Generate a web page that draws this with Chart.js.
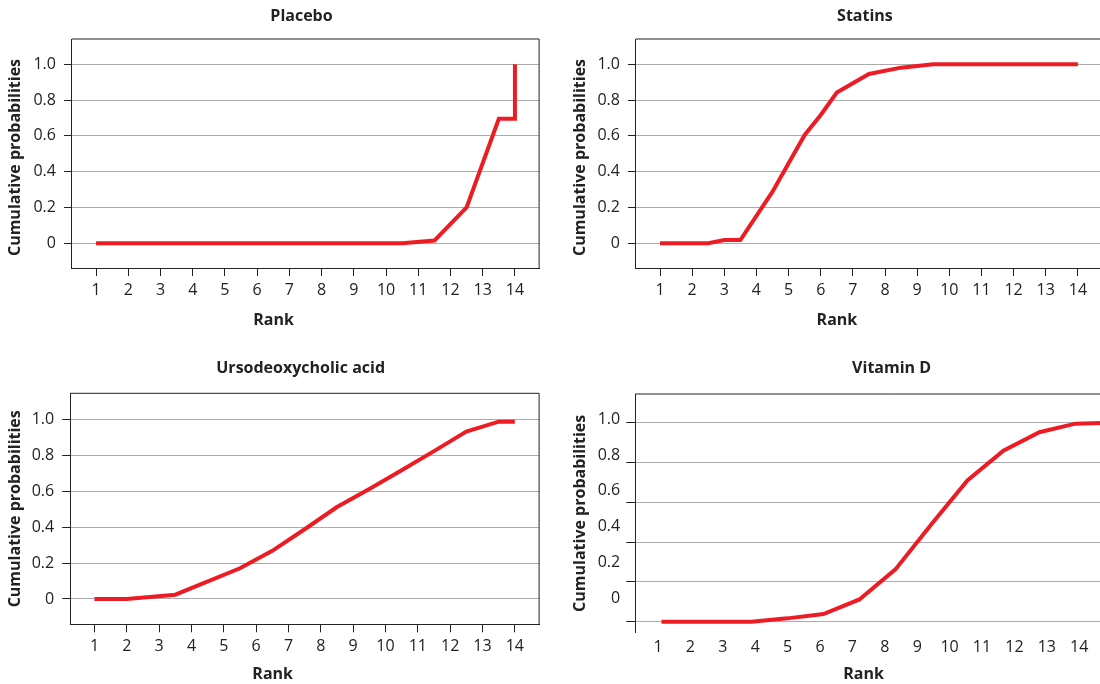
<!DOCTYPE html>
<html>
<head>
<meta charset="utf-8">
<script src="https://cdn.jsdelivr.net/npm/chart.js@4.4.1/dist/chart.umd.min.js"></script>
<style>
  html, body { margin: 0; padding: 0; background: #fff; }
  body { position: relative; width: 1100px; height: 684px; overflow: hidden; }
  canvas { position: absolute; }
</style>
</head>
<body>
<canvas id="placebo" width="550" height="340" style="left:0;top:0"></canvas>
<canvas id="statins" width="560" height="340" style="left:550px;top:0"></canvas>
<canvas id="urso" width="550" height="344" style="left:0;top:340px"></canvas>
<canvas id="vitd" width="620" height="344" style="left:550px;top:340px"></canvas>
<script>
// tick labels
const rankTicks = [1, 2, 3, 4, 5, 6, 7, 8, 9, 10, 11, 12, 13, 14];
const probTicks = [0, 0.2, 0.4, 0.6, 0.8, 1.0];

// cumulative rank probabilities
const placeboRank = [1, 1.5, 2.5, 3.5, 4.5, 5.5, 6.5, 7.5, 8.5, 9.5, 10.5, 11.5, 12.5, 13.5, 14, 14];
const placeboProb = [0, 0, 0, 0, 0, 0, 0, 0, 0, 0, 0, 0.015, 0.2, 0.695, 0.695, 1.0];

const statinsRank = [1, 1.5, 2.5, 3, 3.5, 4.5, 5, 5.5, 6, 6.5, 7.5, 8.5, 9.5, 10.5, 11.5, 12.5, 13.5, 14];
const statinsProb = [0, 0, 0, 0.018, 0.018, 0.288, 0.447, 0.605, 0.717, 0.842, 0.946, 0.981, 1, 1, 1, 1, 1, 1];

const ursoRank = [1, 2, 3.5, 5.5, 6.5, 7.5, 8.5, 9.5, 10.5, 11.5, 12.5, 13.5, 14];
const ursoProb = [0, 0, 0.024, 0.171, 0.268, 0.388, 0.512, 0.612, 0.717, 0.823, 0.932, 0.987, 0.987];

const vitdRank = [1, 1.5, 2.5, 3.5, 4.5, 5.5, 6.5, 7.5, 8.5, 9.5, 10.5, 11.5, 12.5, 13.5, 14];
const vitdProb = [0, 0, 0, 0, 0.017, 0.039, 0.112, 0.263, 0.49, 0.71, 0.859, 0.952, 0.995, 1, 1];

const RED = '#ed1c24';
const GRID = '#ababab';
const INK = '#222222';
const FAMILY = "'Open Sans', 'DejaVu Sans', sans-serif";
const tickFont = { family: FAMILY, size: 16 };
const boldFont = { family: FAMILY, size: 16, weight: 'bold' };
const EN = '\u2002';
const RANK = 'Rank\u2003\u2003\u2003\u2003';

const fixSize = px => s => { if (s.isHorizontal()) s.height = px; else s.width = px; };
const useTicks = values => s => { s.ticks = values.map(v => ({ value: v })); };
const probLabel = v => (v === 0 ? '0' : v.toFixed(1));

// top / right edges of the plot box
const framePlugin = {
  id: 'frame',
  beforeDatasetsDraw(chart, args, opts) {
    const { ctx, chartArea: a } = chart;
    ctx.save();
    ctx.strokeStyle = INK;
    ctx.lineWidth = 1;
    ctx.beginPath();
    ctx.moveTo(a.left, a.top);
    ctx.lineTo(a.right, a.top);
    if (opts.right) {
      ctx.moveTo(a.right, a.top);
      ctx.lineTo(a.right, a.bottom);
    }
    ctx.stroke();
    ctx.restore();
  }
};

function lineSet(ranks, probs) {
  return {
    data: ranks.map((r, i) => ({ x: r, y: probs[i] })),
    borderColor: RED,
    borderWidth: 4,
    pointRadius: 0,
    tension: 0,
    fill: false
  };
}

function basePlugins(title, titlePad, frameRight) {
  return {
    legend: { display: false },
    tooltip: { enabled: false },
    title: { display: true, text: title + EN, font: boldFont, color: INK, fullSize: false, padding: titlePad },
    frame: { right: frameRight }
  };
}

function standardPanel(id, title, ranks, probs, o) {
  return new Chart(document.getElementById(id), {
    type: 'line',
    data: { datasets: [lineSet(ranks, probs)] },
    options: {
      responsive: false,
      animation: false,
      events: [],
      layout: { padding: { right: o.padRight } },
      plugins: basePlugins(title, o.titlePad, o.frameRight),
      scales: {
        x: {
          type: 'linear', min: 0.25, max: 14.75,
          afterBuildTicks: useTicks(rankTicks),
          afterFit: fixSize(o.xHeight),
          grid: { drawOnChartArea: false, tickLength: 8, tickColor: INK },
          border: { color: INK, width: 1 },
          ticks: { font: tickFont, color: INK, padding: 5, autoSkip: false, maxRotation: 0, callback: v => String(v) },
          title: { display: true, text: RANK, font: boldFont, color: INK, padding: { top: 0, bottom: o.rankPad } }
        },
        y: {
          type: 'linear', min: o.yMin, max: o.yMax,
          afterBuildTicks: useTicks(probTicks),
          afterFit: fixSize(o.yWidth),
          grid: { color: GRID, lineWidth: 1, tickLength: 8, tickColor: INK },
          border: { color: INK, width: 1 },
          ticks: { font: tickFont, color: INK, padding: 8, callback: probLabel },
          title: { display: true, text: 'Cumulative probabilities' + o.ySuffix, font: boldFont, color: INK, padding: { top: o.yTitlePad, bottom: 0 } }
        }
      }
    },
    plugins: [framePlugin]
  });
}

standardPanel('placebo', 'Placebo', placeboRank, placeboProb, {
  padRight: 10.9, titlePad: { top: 7.2, bottom: 12.6 }, frameRight: true,
  xHeight: 72, rankPad: 9.8, yMin: -0.138, yMax: 1.141, yWidth: 71.9, yTitlePad: 6.2, ySuffix: EN
});

standardPanel('statins', 'Statins', statinsRank, statinsProb, {
  padRight: 8, titlePad: { top: 7.2, bottom: 12.6 }, frameRight: true,
  xHeight: 72, rankPad: 9.8, yMin: -0.138, yMax: 1.141, yWidth: 85.9, yTitlePad: 21.3, ySuffix: EN
});

standardPanel('urso', 'Ursodeoxycholic acid', ursoRank, ursoProb, {
  padRight: 10.9, titlePad: { top: 19.3, bottom: 14.8 }, frameRight: true,
  xHeight: 59.7, rankPad: 0, yMin: -0.141, yMax: 1.145, yWidth: 70.2, yTitlePad: 6.2, ySuffix: ''
});

// Vitamin D: the plotted area is stretched while its tick labels stay put,
// so labels come from separate axes
new Chart(document.getElementById('vitd'), {
  type: 'line',
  data: { datasets: [lineSet(vitdRank, vitdProb)] },
  options: {
    responsive: false,
    animation: false,
    events: [],
    layout: { padding: { right: 14 } },
    plugins: basePlugins('Vitamin D', { top: 19.3, bottom: 15.5 }, false),
    scales: {
      x: { type: 'linear', display: false, min: 0.27, max: 14.74 },
      xl: {
        type: 'linear', position: 'bottom', weight: 1, min: 0.296, max: 16.37,
        afterBuildTicks: useTicks(rankTicks),
        afterFit: fixSize(51.3),
        grid: { display: false, drawTicks: false },
        border: { display: false },
        ticks: { font: tickFont, color: INK, padding: 5, autoSkip: false, maxRotation: 0, callback: v => String(v) },
        title: { display: true, text: RANK, font: boldFont, color: INK, padding: { top: 0, bottom: 0 } }
      },
      y: {
        type: 'linear', position: 'left', weight: 0, min: -0.055, max: 1.144,
        afterBuildTicks: useTicks(probTicks),
        afterFit: fixSize(9),
        grid: { color: GRID, lineWidth: 1, tickLength: 9, tickColor: INK },
        border: { color: INK, width: 1 },
        ticks: { display: false }
      },
      yl: {
        type: 'linear', position: 'left', weight: 1, min: -0.192, max: 1.141,
        afterBuildTicks: useTicks(probTicks),
        afterFit: fixSize(76.2),
        grid: { display: false, drawTicks: false },
        border: { display: false },
        ticks: { font: tickFont, color: INK, padding: 6, callback: probLabel },
        title: { display: true, text: 'Cumulative probabilities', font: boldFont, color: INK, padding: { top: 21.3, bottom: 0 } }
      }
    }
  },
  plugins: [framePlugin]
});
</script>
</body>
</html>
